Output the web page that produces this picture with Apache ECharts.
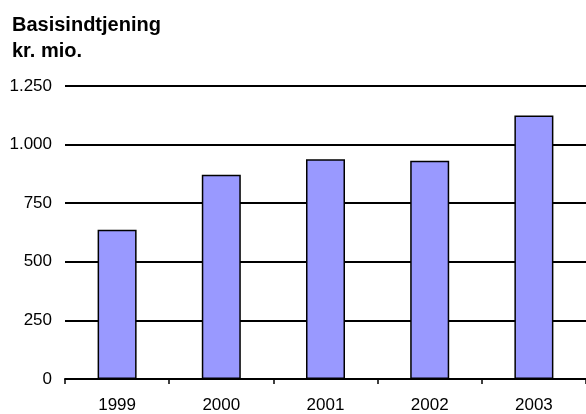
<!DOCTYPE html>
<html>
<head>
<meta charset="utf-8">
<script src="https://cdn.jsdelivr.net/npm/echarts@6/dist/echarts.min.js"></script>
<style>html,body{margin:0;padding:0;background:#fff}#c{width:586px;height:414px}</style>
</head>
<body>
<div id="c"></div>
<script>
const categories = ['1999', '2000', '2001', '2002', '2003'];
const values = [637, 871, 938, 931, 1124];
const titleLines = ['Basisindtjening', 'kr. mio.'];

const chart = echarts.init(document.getElementById('c'), null, {renderer: 'canvas'});
chart.setOption({
  animation: false,
  backgroundColor: '#fff',
  title: {
    text: titleLines.join('\n'),
    left: 7, top: 7,
    textStyle: {fontFamily: 'Liberation Sans', fontSize: 20, fontWeight: 'bold', color: '#000', lineHeight: 26}
  },
  grid: {left: 65, top: 86, width: 531, bottom: 30, containLabel: false},
  xAxis: {
    type: 'category',
    data: categories,
    axisLine: {lineStyle: {color: '#000', width: 2}},
    axisTick: {show: true, length: 5, lineStyle: {color: '#000', width: 1.5}},
    axisLabel: {color: '#000', fontFamily: 'Liberation Sans', fontSize: 17, margin: 18}
  },
  yAxis: {
    type: 'value',
    min: 0, max: 1250, interval: 250,
    axisLine: {show: false},
    axisTick: {show: false},
    splitLine: {lineStyle: {color: '#000', width: 2}},
    axisLabel: {
      color: '#000', fontFamily: 'Liberation Sans', fontSize: 17, margin: 13,
      formatter: v => v.toString().replace(/\B(?=(\d{3})+(?!\d))/g, '.')
    }
  },
  series: [{
    type: 'bar',
    data: values,
    barWidth: 39,
    itemStyle: {color: '#9999ff', borderColor: '#000', borderWidth: 1.5}
  }]
});
</script>
</body>
</html>
